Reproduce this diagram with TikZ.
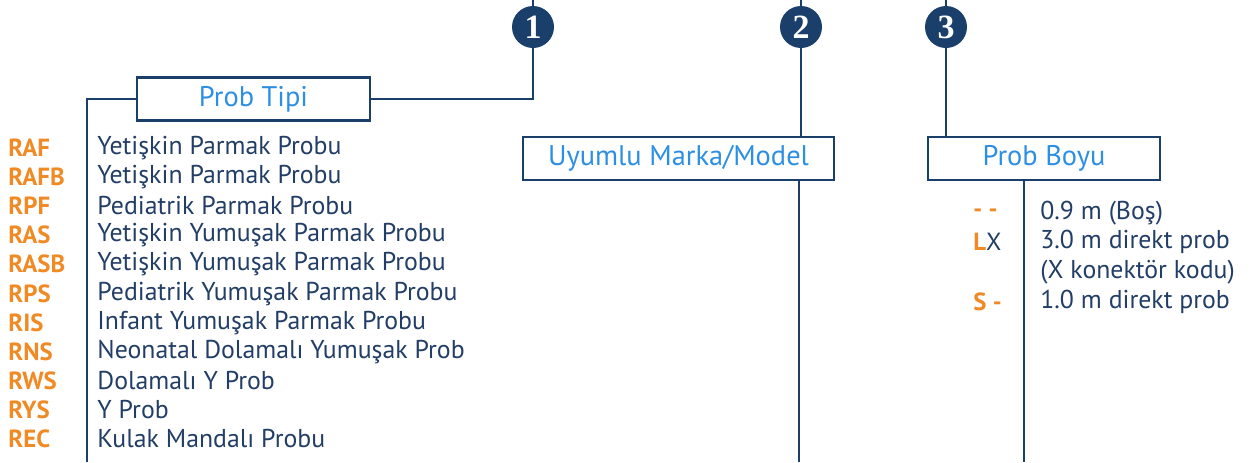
\documentclass[tikz,border=0pt]{standalone}
\usepackage{fontspec}
\setmainfont{PT Sans}
\newfontfamily\numfont{Liberation Serif}
\definecolor{navy}{HTML}{1B3F6B}
\definecolor{textblue}{HTML}{233E66}
\definecolor{skyblue}{HTML}{2D8FE3}
\definecolor{codeorange}{HTML}{F08A24}
\begin{document}
\begin{tikzpicture}
    [x=0.5pt, y=-0.5pt,
    num/.style={circle, fill=navy, inner sep=0pt, minimum size=21pt, text=white, font=\numfont\bfseries\fontsize{17}{17}\selectfont},
    box/.style={draw=navy, line width=1.2pt, inner sep=0pt, minimum height=21.5pt, text=skyblue, font=\fontsize{14.2}{16}\selectfont},
    link/.style={navy, line width=1.3pt},
    code/.style={anchor=west, inner sep=0pt, text=codeorange, font=\bfseries\fontsize{12.4}{14}\selectfont},
    item/.style={anchor=west, inner sep=0pt, text=textblue, font=\fontsize{12.9}{15}\selectfont}]

    \useasboundingbox (0,0) rectangle (1255,462);

    % numbered markers
    \node[num] (n1) at (533,27) {1};
    \node[num] (n2) at (801,27) {2};
    \node[num] (n3) at (946,27) {3};
    \coordinate (t1) at (533,0);
    \coordinate (t2) at (801,0);
    \coordinate (t3) at (946,0);

    % headings
    \node[box, minimum width=116.5pt] (tipi) at (253.5,99) {Prob Tipi};
    \node[box, minimum width=155.5pt] (marka) at (678.5,158.5) {Uyumlu Marka/Model};
    \node[box, minimum width=116pt] (boyu) at (1044,158.5) {Prob Boyu};
    \coordinate (b1) at (87,462);
    \coordinate (b2) at (799,462);
    \coordinate (b3) at (1024,462);

    % probe types
    \node[code] (c1) at (8,148) {RAF};
    \node[code] (c2) at (8,177) {RAFB};
    \node[code] (c3) at (8,206) {RPF};
    \node[code] (c4) at (8,235) {RAS};
    \node[code] (c5) at (8,264) {RASB};
    \node[code] (c6) at (8,294) {RPS};
    \node[code] (c7) at (8,323) {RIS};
    \node[code] (c8) at (8,352) {RNS};
    \node[code] (c9) at (8,381) {RWS};
    \node[code] (c10) at (8,410) {RYS};
    \node[code] (c11) at (8,439) {REC};
    \node[item] (d1) at (97,148) {Yetişkin Parmak Probu};
    \node[item] (d2) at (97,177) {Yetişkin Parmak Probu};
    \node[item] (d3) at (97,206) {Pediatrik Parmak Probu};
    \node[item] (d4) at (97,235) {Yetişkin Yumuşak Parmak Probu};
    \node[item] (d5) at (97,264) {Yetişkin Yumuşak Parmak Probu};
    \node[item] (d6) at (97,294) {Pediatrik Yumuşak Parmak Probu};
    \node[item] (d7) at (97,323) {Infant Yumuşak Parmak Probu};
    \node[item] (d8) at (97,352) {Neonatal Dolamalı Yumuşak Prob};
    \node[item] (d9) at (97,381) {Dolamalı Y Prob};
    \node[item] (d10) at (97,410) {Y Prob};
    \node[item] (d11) at (97,439) {Kulak Mandalı Probu};

    % probe lengths
    \node[code] (l1) at (973,213) {- -};
    \node[code] (l2) at (973,242) {L\textcolor{textblue}{\mdseries X}};
    \node[code] (l3) at (973,302) {S -};
    \node[item] (m1) at (1040,213) {0.9 m (Boş)};
    \node[item] (m2) at (1040,242) {3.0 m direkt prob};
    \node[item] (m3) at (1040,272) {(X konektör kodu)};
    \node[item] (m4) at (1040,302) {1.0 m direkt prob};

    % connectors
    \draw[link] (n1) -- (t1);
    \draw[link] (n2) -- (t2);
    \draw[link] (n3) -- (t3);
    \draw[link] (n1) |- (tipi.east);
    \draw[link] (tipi.west) -| (b1);
    \draw[link] (n2) -- (n2 |- marka.north);
    \draw[link] (marka.south -| b2) -- (b2);
    \draw[link] (n3) -- (n3 |- boyu.north);
    \draw[link] (boyu.south -| b3) -- (b3);

\end{tikzpicture}
\end{document}
